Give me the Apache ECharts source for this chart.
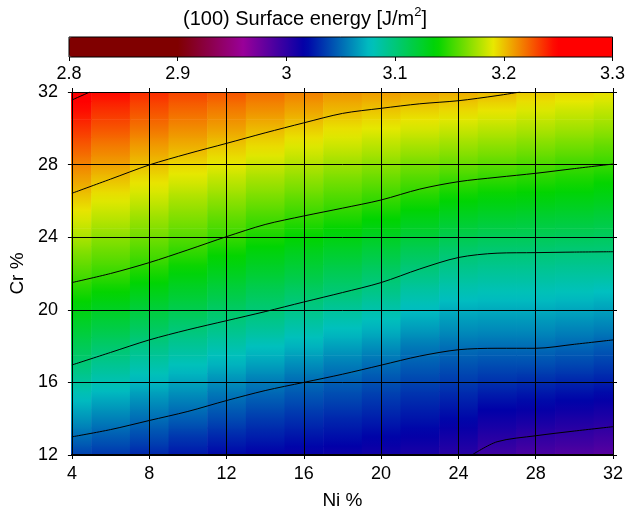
<!DOCTYPE html>
<html><head><meta charset="utf-8">
<script src="https://cdn.jsdelivr.net/npm/echarts@6/dist/echarts.min.js"></script>
<style>html,body{margin:0;padding:0;background:#fff}#c{width:628px;height:516px}</style>
</head><body><div id="c"></div>
<script>
// ---- data ----
const niValues = [4, 6, 8, 10, 12, 14, 16, 18, 20, 22, 24, 26, 28, 30, 32];
const crValues = [12, 13, 14, 15, 16, 17, 18, 19, 20, 21, 22, 23, 24, 25, 26, 27, 28, 29, 30, 31, 32];
// rows follow crValues, columns follow niValues; surface energy in J/m2
const energyRows = [
  [3.037, 3.034, 3.029, 3.024, 3.019, 3.016, 3.014, 3.012, 3.010, 3.007, 3.002, 2.993, 2.989, 2.986, 2.984],
  [3.050, 3.045, 3.040, 3.034, 3.029, 3.026, 3.023, 3.021, 3.018, 3.015, 3.010, 3.003, 2.999, 2.997, 2.994],
  [3.063, 3.057, 3.051, 3.046, 3.040, 3.035, 3.032, 3.029, 3.026, 3.023, 3.019, 3.012, 3.010, 3.007, 3.005],
  [3.075, 3.069, 3.062, 3.057, 3.050, 3.045, 3.041, 3.038, 3.034, 3.030, 3.027, 3.022, 3.020, 3.018, 3.015],
  [3.088, 3.081, 3.074, 3.068, 3.061, 3.055, 3.050, 3.046, 3.042, 3.038, 3.035, 3.032, 3.030, 3.028, 3.026],
  [3.100, 3.092, 3.085, 3.079, 3.073, 3.067, 3.061, 3.056, 3.051, 3.046, 3.043, 3.041, 3.041, 3.039, 3.036],
  [3.111, 3.104, 3.096, 3.090, 3.084, 3.078, 3.073, 3.067, 3.062, 3.055, 3.052, 3.051, 3.051, 3.049, 3.046],
  [3.122, 3.116, 3.108, 3.101, 3.095, 3.090, 3.084, 3.078, 3.073, 3.066, 3.062, 3.061, 3.061, 3.059, 3.057],
  [3.133, 3.127, 3.119, 3.113, 3.106, 3.101, 3.095, 3.089, 3.084, 3.076, 3.071, 3.070, 3.070, 3.069, 3.067],
  [3.144, 3.139, 3.131, 3.124, 3.117, 3.111, 3.106, 3.101, 3.095, 3.086, 3.081, 3.080, 3.080, 3.079, 3.077],
  [3.155, 3.150, 3.143, 3.135, 3.128, 3.122, 3.117, 3.111, 3.105, 3.097, 3.091, 3.089, 3.089, 3.088, 3.088],
  [3.165, 3.160, 3.154, 3.147, 3.139, 3.132, 3.127, 3.122, 3.116, 3.108, 3.101, 3.099, 3.099, 3.098, 3.098],
  [3.176, 3.169, 3.163, 3.157, 3.150, 3.143, 3.138, 3.133, 3.127, 3.120, 3.113, 3.110, 3.110, 3.109, 3.108],
  [3.186, 3.179, 3.172, 3.166, 3.159, 3.153, 3.148, 3.144, 3.138, 3.131, 3.125, 3.122, 3.121, 3.120, 3.118],
  [3.196, 3.188, 3.182, 3.175, 3.169, 3.163, 3.158, 3.154, 3.149, 3.143, 3.137, 3.134, 3.133, 3.131, 3.129],
  [3.206, 3.198, 3.191, 3.185, 3.179, 3.173, 3.168, 3.163, 3.159, 3.154, 3.149, 3.146, 3.144, 3.142, 3.139],
  [3.215, 3.208, 3.200, 3.194, 3.189, 3.183, 3.178, 3.173, 3.169, 3.164, 3.161, 3.158, 3.155, 3.152, 3.150],
  [3.225, 3.217, 3.209, 3.204, 3.198, 3.193, 3.187, 3.183, 3.179, 3.175, 3.172, 3.169, 3.166, 3.163, 3.160],
  [3.235, 3.227, 3.219, 3.213, 3.208, 3.202, 3.197, 3.192, 3.189, 3.186, 3.183, 3.180, 3.177, 3.174, 3.171],
  [3.245, 3.236, 3.228, 3.222, 3.217, 3.212, 3.207, 3.202, 3.199, 3.196, 3.194, 3.191, 3.187, 3.184, 3.181],
  [3.254, 3.246, 3.237, 3.231, 3.227, 3.221, 3.216, 3.211, 3.209, 3.207, 3.205, 3.202, 3.198, 3.195, 3.192]
];
// contour lines, [Ni %, Cr %] points
const contour300 = [[24.7, 12], [26, 12.73], [28, 13.06], [30, 13.32], [32, 13.56]];
const contour305 = [[4, 13.0], [6, 13.4], [8, 13.9], [10, 14.4], [12, 15.0], [14, 15.55], [16, 16.0], [18, 16.45], [20, 16.95], [22, 17.45], [24, 17.8], [26, 17.88], [28, 17.88], [30, 18.1], [32, 18.34]];
const contour310 = [[4, 16.96], [6, 17.65], [8, 18.34], [10, 18.9], [12, 19.4], [14, 19.9], [16, 20.43], [18, 20.95], [20, 21.5], [22, 22.25], [24, 22.88], [26, 23.12], [28, 23.15], [30, 23.18], [32, 23.2]];
const contour315 = [[4, 21.5], [6, 22.0], [8, 22.6], [10, 23.3], [12, 24.03], [14, 24.7], [16, 25.17], [18, 25.6], [20, 26.05], [22, 26.65], [24, 27.06], [26, 27.3], [28, 27.52], [30, 27.78], [32, 28.03]];
const contour320 = [[4, 26.42], [6, 27.2], [8, 27.98], [10, 28.6], [12, 29.17], [14, 29.75], [16, 30.3], [18, 30.82], [20, 31.1], [22, 31.35], [24, 31.52], [26, 31.8], [27.2, 32]];
const contour325 = [[4, 31.56], [4.93, 32]];
const colorbarMin = 2.8, colorbarMax = 3.3, colorbarStep = 0.1;
const niMin = 4, niMax = 32, crMin = 12, crMax = 32, axisStep = 4;

// ---- colour scale (style) ----
const colorStops = [
  [2.80, [128, 0, 0]], [2.90, [128, 0, 0]], [2.96, [153, 0, 153]], [3.017, [0, 0, 168]],
  [3.077, [0, 192, 192]], [3.138, [0, 212, 0]], [3.19, [232, 232, 0]], [3.248, [255, 0, 0]], [3.30, [255, 0, 0]]
];
function paletteAt(v) {
  if (v <= colorStops[0][0]) return 'rgb(128,0,0)';
  for (let i = 1; i < colorStops.length; i++) {
    if (v <= colorStops[i][0] + 1e-9) {
      const a = colorStops[i - 1], b = colorStops[i];
      const t = (v - a[0]) / (b[0] - a[0]);
      const c = a[1].map((x, k) => Math.round(x + (b[1][k] - x) * t));
      return 'rgb(' + c.join(',') + ')';
    }
  }
  return 'rgb(255,0,0)';
}
const palette = [];
for (let i = 0; i <= 100; i++) palette.push(paletteAt(colorbarMin + (colorbarMax - colorbarMin) * i / 100));

// ---- build series data ----
const cells = [];
crValues.forEach((cr, r) => niValues.forEach((ni, c) => cells.push([ni, cr, energyRows[r][c], r, c])));
const niHalf = (niValues[1] - niValues[0]) / 2;
const crHalf = (crValues[1] - crValues[0]) / 2;

const FONT = 'Liberation Sans, Arial, sans-serif';
const txt = { color: '#000', fontFamily: FONT, fontSize: 18 };

function contourSeries(d) {
  return {
    type: 'line', data: d, xAxisIndex: 0, yAxisIndex: 0, showSymbol: false, symbol: 'none',
    smooth: 0.3, silent: true, clip: true, z: 5,
    lineStyle: { color: '#000', width: 1 }
  };
}

const chart = echarts.init(document.getElementById('c'), null, { renderer: 'canvas' });
chart.setOption({
  animation: false,
  backgroundColor: '#fff',
  title: {
    text: '(100) Surface energy [J/m{sup|2}]',
    left: 178, top: 1,
    textStyle: {
      color: '#000', fontFamily: FONT, fontSize: 20, fontWeight: 'normal', lineHeight: 26,
      rich: { sup: { fontFamily: FONT, fontSize: 13, color: '#000', verticalAlign: 'top', lineHeight: 13 } }
    }
  },
  grid: [
    { left: 69, right: 15, top: 92, bottom: 61, show: false },
    { left: 69, width: 544, top: 37, height: 20, show: true, borderColor: '#000', borderWidth: 1, backgroundColor: 'transparent', z: 10 }
  ],
  visualMap: {
    type: 'continuous', min: colorbarMin, max: colorbarMax, dimension: 2, seriesIndex: 0,
    orient: 'horizontal', left: 69, top: 37, itemWidth: 20, itemHeight: 544,
    calculable: false, padding: 0, text: null, hoverLink: false,
    inRange: { color: palette }
  },
  xAxis: [
    {
      type: 'value', gridIndex: 0, position: 'bottom', min: niMin, max: niMax, interval: axisStep,
      name: 'Ni %', nameLocation: 'middle', nameGap: 36, nameTextStyle: Object.assign({}, txt, { fontSize: 19 }),
      axisLine: { show: true, onZero: false, lineStyle: { color: '#000', width: 2 } },
      axisTick: { show: true, inside: false, length: 4, lineStyle: { color: '#000' } },
      axisLabel: Object.assign({ margin: 10 }, txt),
      splitLine: { show: true, lineStyle: { color: '#000', width: 1 } }
    },
    {
      type: 'value', gridIndex: 0, position: 'top', min: niMin, max: niMax, interval: axisStep,
      axisLine: { show: true, onZero: false, lineStyle: { color: '#000', width: 1 } },
      axisTick: { show: true, inside: false, length: 4, lineStyle: { color: '#000' } },
      axisLabel: { show: false }, splitLine: { show: false }
    },
    {
      type: 'value', gridIndex: 1, position: 'bottom', min: colorbarMin, max: colorbarMax, interval: colorbarStep,
      axisLine: { show: false },
      axisTick: { show: true, inside: false, length: 4, lineStyle: { color: '#000' } },
      axisLabel: Object.assign({ margin: 8 }, txt),
      splitLine: { show: false }
    }
  ],
  yAxis: [
    {
      type: 'value', gridIndex: 0, position: 'left', min: crMin, max: crMax, interval: axisStep,
      name: 'Cr %', nameLocation: 'middle', nameGap: 40, nameTextStyle: Object.assign({}, txt, { fontSize: 19 }),
      axisLine: { show: true, onZero: false, lineStyle: { color: '#000', width: 1 } },
      axisTick: { show: true, inside: false, length: 4, lineStyle: { color: '#000' } },
      axisLabel: Object.assign({ margin: 14 }, txt),
      splitLine: { show: true, lineStyle: { color: '#000', width: 1 } }
    },
    {
      type: 'value', gridIndex: 0, position: 'right', min: crMin, max: crMax, interval: axisStep,
      axisLine: { show: true, onZero: false, lineStyle: { color: '#000', width: 1 } },
      axisTick: { show: true, inside: false, length: 4, lineStyle: { color: '#000' } },
      axisLabel: { show: false }, splitLine: { show: false }
    },
    { type: 'value', gridIndex: 1, min: 0, max: 1, show: false }
  ],
  series: [
    {
      type: 'custom', xAxisIndex: 0, yAxisIndex: 0, data: cells, clip: true, silent: true, z: -1,
      encode: { x: 0, y: 1 },
      renderItem: function (params, api) {
        const ni = api.value(0), cr = api.value(1), v = api.value(2);
        const r = api.value(3), c = api.value(4);
        const vUp = r + 1 < energyRows.length ? energyRows[r + 1][c] : v;
        const vDown = r > 0 ? energyRows[r - 1][c] : v;
        const p1 = api.coord([ni - niHalf, cr + crHalf]);
        const p2 = api.coord([ni + niHalf, cr - crHalf]);
        return {
          type: 'rect',
          shape: { x: p1[0], y: p1[1], width: p2[0] - p1[0] + 0.6, height: p2[1] - p1[1] + 0.6 },
          style: {
            fill: {
              type: 'linear', x: 0, y: 0, x2: 0, y2: 1,
              colorStops: [
                { offset: 0, color: paletteAt((v + vUp) / 2) },
                { offset: 0.5, color: paletteAt(v) },
                { offset: 1, color: paletteAt((v + vDown) / 2) }
              ]
            }
          }
        };
      }
    },
    contourSeries(contour300),
    contourSeries(contour305),
    contourSeries(contour310),
    contourSeries(contour315),
    contourSeries(contour320),
    contourSeries(contour325)
  ]
});
</script></body></html>
